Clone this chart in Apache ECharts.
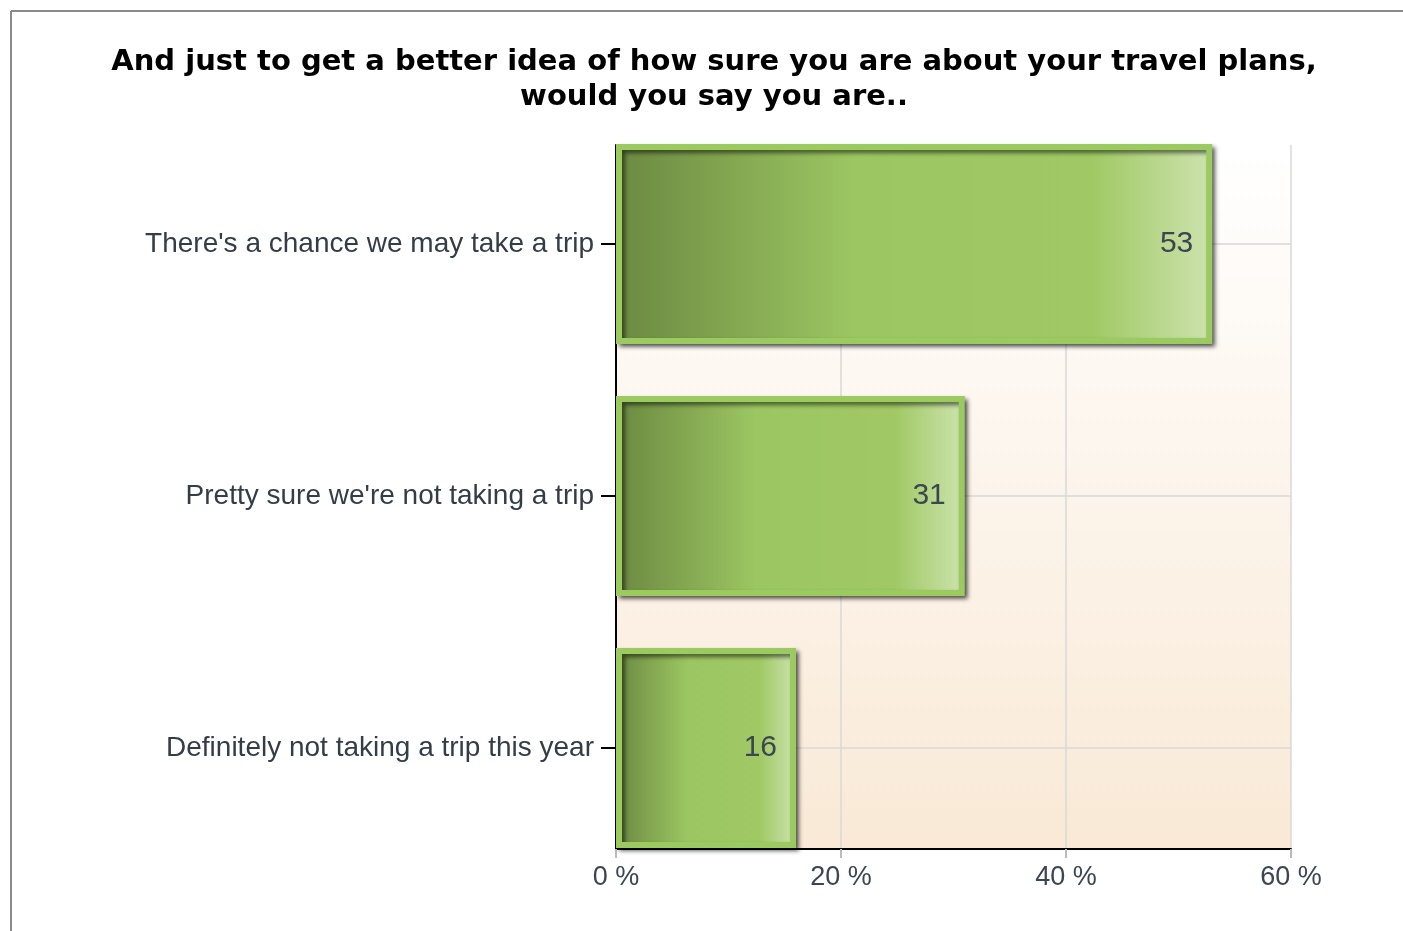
<!DOCTYPE html>
<html><head><meta charset="utf-8">
<style>html,body{margin:0;padding:0;background:#fff}#c{width:1403px;height:931px}</style>
<script src="https://cdn.jsdelivr.net/npm/echarts@6/dist/echarts.min.js"></script>
</head><body><div id="c"></div>
<script>
const titleText = 'And just to get a better idea of how sure you are about your travel plans,\nwould you say you are..';
const categories = ["There's a chance we may take a trip", "Pretty sure we're not taking a trip", "Definitely not taking a trip this year"];
const values = [53, 31, 16];
const xMin = 0, xMax = 60, xInterval = 20;

const chart = echarts.init(document.getElementById('c'));
const barGrad = new echarts.graphic.LinearGradient(0, 0, 1, 0, [
  {offset: 0, color: '#6B8941'},
  {offset: 0.4, color: '#9CC662'},
  {offset: 0.8, color: '#A0C965'},
  {offset: 1, color: '#CDE3AE'}
]);
chart.setOption({
  animation: false,
  backgroundColor: '#fff',
  title: {
    text: titleText, left: 709, top: 40, textAlign: 'center',
    textStyle: {fontFamily: 'DejaVu Sans', fontWeight: 'bold', fontSize: 29, color: '#000', lineHeight: 35}
  },
  graphic: [
    {type: 'line', shape: {x1: 11, y1: 11, x2: 1403, y2: 11}, style: {stroke: '#8a8a8a', lineWidth: 2}, silent: true},
    {type: 'line', shape: {x1: 11, y1: 11, x2: 11, y2: 931}, style: {stroke: '#8a8a8a', lineWidth: 2}, silent: true}
  ],
  grid: [
    {left: 616, right: 112, top: 145, bottom: 82, show: true, borderWidth: 0,
     backgroundColor: new echarts.graphic.LinearGradient(0, 0, 0, 1, [{offset: 0, color: '#ffffff'}, {offset: 1, color: '#F9E9D6'}])},
    {left: 616, right: 112, top: 118, bottom: 57}
  ],
  xAxis: [
    {gridIndex: 0, type: 'value', min: xMin, max: xMax, interval: xInterval,
     axisLine: {show: true, lineStyle: {color: '#000', width: 2}},
     axisTick: {show: true, length: 9, lineStyle: {color: '#bbb', width: 2}},
     axisLabel: {formatter: '{value} %', fontFamily: 'Liberation Sans', fontSize: 27, color: '#3a4652', margin: 15},
     splitLine: {show: true, lineStyle: {color: '#d8d8d8', width: 1.5}}},
    {gridIndex: 1, type: 'value', min: xMin, max: xMax, interval: xInterval, show: false, splitLine: {show: false}}
  ],
  yAxis: [
    {gridIndex: 0, type: 'value', min: 0, max: 1, axisLine: {show: true, onZero: false, lineStyle: {color: '#000', width: 2}},
     axisTick: {show: false}, axisLabel: {show: false}, splitLine: {show: false}},
    {gridIndex: 1, type: 'category', inverse: true, data: categories,
     axisLine: {show: false},
     axisTick: {show: true, alignWithLabel: true, length: 15, lineStyle: {color: '#000', width: 2}},
     axisLabel: {fontFamily: 'Liberation Sans', fontSize: 28, color: '#333d47', margin: 22},
     splitLine: {show: true, alignWithLabel: true, lineStyle: {color: '#d8d8d8', width: 1.5}}}
  ],
  series: [{
    type: 'bar', xAxisIndex: 1, yAxisIndex: 1, data: values, barCategoryGap: '20.6%', z: 3,
    itemStyle: {color: barGrad, borderColor: '#9BCB60', borderWidth: 6,
      shadowColor: 'rgba(0,0,0,0.55)', shadowBlur: 4, shadowOffsetX: 3, shadowOffsetY: 3},
    label: {show: true, position: 'insideRight', distance: 19, fontFamily: 'Liberation Sans', fontSize: 30, color: '#3b4650'}
  }]
});
</script></body></html>
